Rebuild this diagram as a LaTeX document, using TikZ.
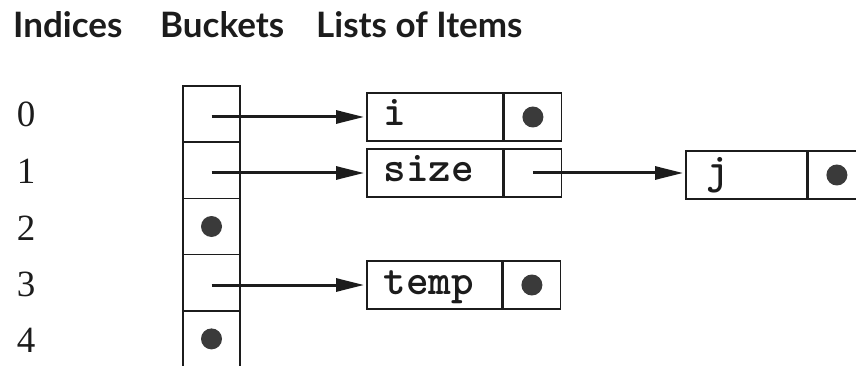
\documentclass[tikz,border=0pt]{standalone}
\usepackage{fontspec}
\usetikzlibrary{arrows.meta}
\newfontfamily\headfont{Lato}
\newfontfamily\digitfont{Liberation Serif}
\definecolor{ink}{HTML}{1C1C1C}
\definecolor{dotc}{HTML}{3A3A3A}
\begin{document}
\begin{tikzpicture}[x=1pt,y=-1pt,
  hdr/.style={anchor=base west, inner sep=0pt, font=\headfont\bfseries\fontsize{35}{40}\selectfont, text=ink},
  idx/.style={anchor=base, inner sep=0pt, font=\digitfont\fontsize{37}{44}\selectfont, text=ink},
  bcell/.style={draw=ink, line width=1.6pt, inner sep=0pt, minimum width=57pt, minimum height=56.2pt},
  dcell/.style={draw=ink, line width=1.6pt, anchor=west, inner ysep=0pt, minimum height=48pt, align=left,
     text height=26pt, text depth=8pt, font=\ttfamily\bfseries\fontsize{43}{48}\selectfont, text=ink},
  pcell/.style={draw=ink, line width=1.6pt, anchor=west, inner sep=0pt, minimum width=57pt, minimum height=48pt},
  dot/.style={fill=dotc},
  arr/.style={draw=ink, line width=3pt, -{Triangle[length=28pt,width=13pt]}, shorten >=2pt}]
\clip (0,0) rectangle (856,366);
% headers
\node[hdr] (h1) at (13,38) {Indices};
\node[hdr] (h2) at (160,38) {Buckets};
\node[hdr] (h3) at (316,38) {Lists of Items};
% indices
\node[idx] (n0) at (26,127) {0};
\node[idx] (n1) at (26,183) {1};
\node[idx] (n2) at (26,240) {2};
\node[idx] (n3) at (26,296) {3};
\node[idx] (n4) at (26,352) {4};
% buckets
\node[bcell] (b0) at (211.5,114.1) {};
\node[bcell] (b1) at (211.5,170.3) {};
\node[bcell] (b2) at (211.5,226.5) {};
\node[bcell] (b3) at (211.5,282.7) {};
\node[bcell] (b4) at (211.5,338.9) {};
\fill[dot] (b2.center) circle (10.5);
\fill[dot] (b4.center) circle (10.5);
% list items
\node[dcell, inner xsep=17pt, text width=102pt] (id) at (366,117) {i};
\node[pcell] (ip) at (id.east) {};
\fill[dot] (ip.center) circle (10.5);
\node[dcell, inner xsep=17pt, text width=102pt] (sd) at (366,173) {size};
\node[pcell] (sp) at (sd.east) {};
\node[dcell, inner xsep=17pt, text width=101pt] (td) at (366,285) {temp};
\node[pcell] (tp) at (td.east) {};
\fill[dot] (tp.center) circle (10.5);
\node[dcell, inner xsep=21pt, text width=79pt] (jd) at (685,175) {j};
\node[pcell] (jp) at (jd.east) {};
\fill[dot] (jp.center) circle (10.5);
% arrows
\draw[arr] (b0.center |- id.west) -- (id.west);
\draw[arr] (b1.center |- sd.west) -- (sd.west);
\draw[arr] (b3.center |- td.west) -- (td.west);
\draw[arr] (sp.center) -- (jd.west |- sp.center);
\end{tikzpicture}
\end{document}
